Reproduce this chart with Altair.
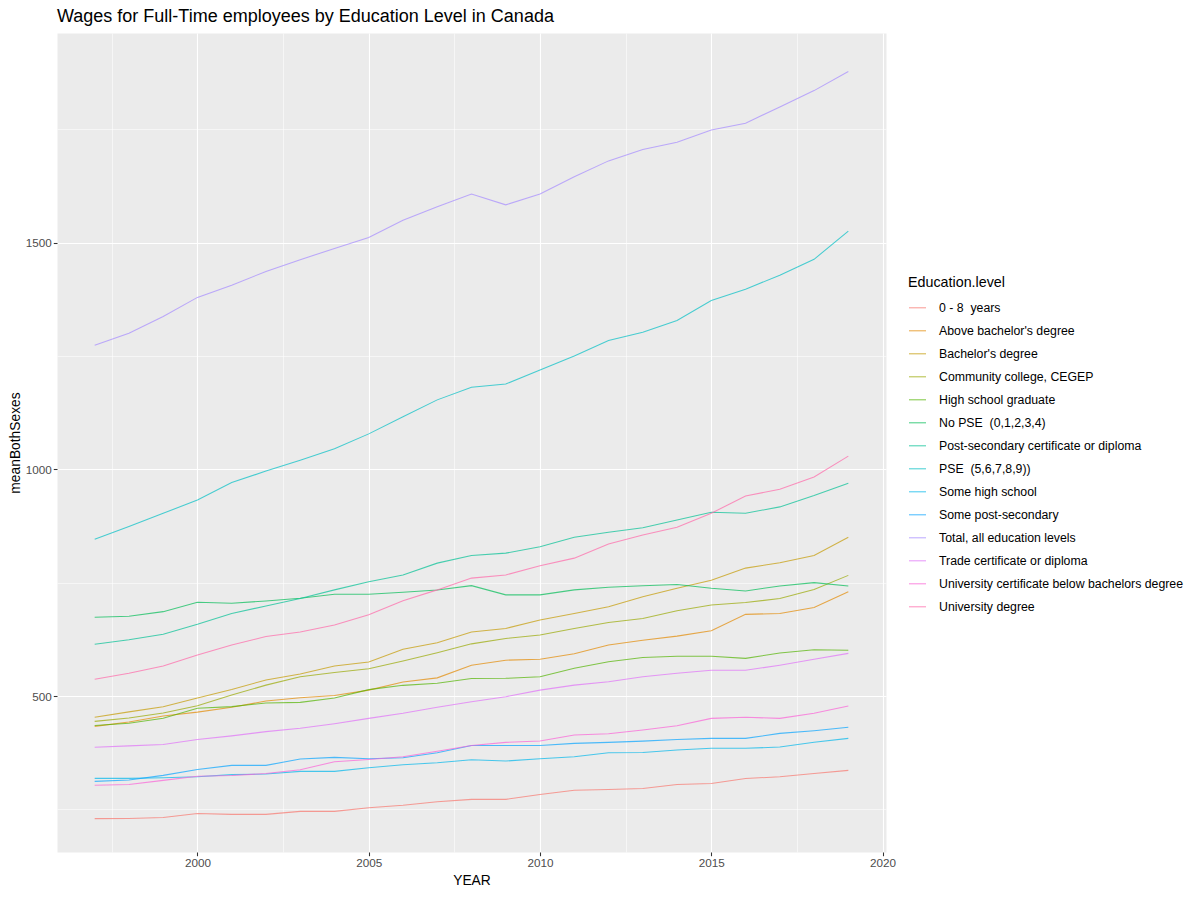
import math
import altair as alt
import pandas as pd

years = list(range(1997, 2020))

levels = [
    "0 - 8 \u00a0years",
    "Above bachelor's degree",
    "Bachelor's degree",
    "Community college, CEGEP",
    "High school graduate",
    "No PSE \u00a0(0,1,2,3,4)",
    "Post-secondary certificate or diploma",
    "PSE \u00a0(5,6,7,8,9))",
    "Some high school",
    "Some post-secondary",
    "Total, all education levels",
    "Trade certificate or diploma",
    "University certificate below bachelors degree",
    "University degree",
]

s_0_8 = [229.6, 230, 232, 241, 239, 239, 245.6, 245.6, 253.7, 259, 267, 272, 272, 283, 292, 294, 296, 305, 307, 318, 322, 329, 336]
above_bach = [433, 442.6, 456, 464.5, 475, 489, 496, 501, 513, 531, 540, 568, 579, 581, 593, 612.5, 623, 632, 644, 680, 682, 695, 730]
bach = [453, 465, 476.5, 495.5, 514.5, 535.3, 548.5, 566, 575, 603, 617.6, 641, 649, 667.6, 682, 697, 719, 737.5, 755, 782, 794, 810, 850]
comm = [444, 451.5, 462.5, 478.7, 502, 524, 542.6, 552, 560, 577, 595.6, 615, 627, 634.6, 649, 662, 671, 688, 700.7, 706, 715, 735, 766]
hs_grad = [435, 440, 451, 472.8, 476.5, 484.5, 486, 495.6, 514, 523.5, 528, 538.5, 539, 542.6, 561, 575.7, 585, 587.5, 587.5, 583, 595, 602, 600.7]
no_pse = [673.5, 675.7, 686, 706.6, 704.4, 709.6, 715.4, 724.3, 724.3, 728.7, 733.8, 743.4, 723, 723, 734, 740, 743, 746, 737.5, 731.6, 742.6, 750, 742.6]
ps_cert = [614, 624, 636, 658, 682, 698.5, 715, 734, 752, 767, 793, 810, 815, 829, 850, 861, 871, 888, 905, 903, 917, 942, 969]
pse = [845.6, 874, 903, 932, 970.6, 996, 1020, 1045, 1078, 1116, 1153, 1181, 1188, 1219, 1250, 1284, 1302, 1328, 1372, 1397, 1428, 1463, 1525]
some_hs = [318.4, 318.4, 319.8, 322, 326.6, 328, 333.8, 333.8, 341.9, 348.5, 353, 359.5, 356.6, 361.8, 366, 375, 375.5, 381, 384.6, 384.6, 387.5, 398, 406.6]
some_ps = [311.8, 314.7, 325, 338, 347, 347, 361, 364.7, 361.8, 364, 375, 391, 391, 391, 395.6, 397.8, 400.5, 404, 406.6, 406.6, 417.6, 423.5, 431]
total = [1273.5, 1300, 1337, 1379, 1406, 1436, 1462, 1487, 1511, 1549, 1579, 1607, 1583, 1607, 1645, 1680, 1705, 1721, 1748, 1763, 1799, 1835, 1877]
trade = [386.8, 390, 393, 404, 412, 421.5, 429, 439, 450.7, 461.8, 475, 487.5, 498.5, 513, 524, 531.6, 542.6, 550, 556.6, 556.6, 568, 581, 594]
univ_cert = [303, 305, 314, 323, 324.6, 329, 337.5, 355, 360, 366, 378, 391, 397.8, 400.7, 414, 416.9, 425, 434.6, 450.7, 453, 450.7, 461.8, 478]
univ_deg = [536.8, 550, 566, 590.4, 612.5, 631, 641, 656.6, 679, 710, 734, 760, 767, 787, 804, 835, 855, 872, 903, 941, 956, 983, 1029]

series = [s_0_8, above_bach, bach, comm, hs_grad, no_pse, ps_cert, pse,
          some_hs, some_ps, total, trade, univ_cert, univ_deg]

x_grid = [1997.5, 2000, 2002.5, 2005, 2007.5, 2010, 2012.5, 2015, 2017.5, 2020]
y_grid = [250, 500, 750, 1000, 1250, 1500, 1750]


def hcl_hex(h, c, l):
    # CIE-LUV polar -> sRGB (as R's hcl())
    xn, yn, zn = 95.047, 100.0, 108.883
    hr = math.radians(h)
    U = c * math.cos(hr)
    V = c * math.sin(hr)
    Y = yn * (((l + 16) / 116) ** 3 if l > 8 else l / 903.3)
    un = 4 * xn / (xn + 15 * yn + 3 * zn)
    vn = 9 * yn / (xn + 15 * yn + 3 * zn)
    u = U / (13 * l) + un
    v = V / (13 * l) + vn
    X = 9.0 * Y * u / (4 * v)
    Z = -X / 3 - 5 * Y + 3 * Y / v
    X, Y, Z = X / 100, Y / 100, Z / 100
    r = 3.240479 * X - 1.537150 * Y - 0.498535 * Z
    g = -0.969256 * X + 1.875992 * Y + 0.041556 * Z
    b = 0.055648 * X - 0.204043 * Y + 1.057311 * Z

    def gam(t):
        t = 12.92 * t if t <= 0.0031308 else 1.055 * t ** (1 / 2.4) - 0.055
        return max(0, min(255, round(t * 255)))

    return "#%02X%02X%02X" % (gam(r), gam(g), gam(b))


n = len(levels)
hues = [15 + i * (360 - 360 / n) / (n - 1) for i in range(n)]
palette = [hcl_hex(hh, 100, 65) for hh in hues]

rows = []
for name, vals in zip(levels, series):
    for yr, v in zip(years, vals):
        rows.append({"YEAR": yr, "meanBothSexes": v, "level": name})
df = pd.DataFrame(rows)

tick_col_x = {"condition": {"test": "datum.value % 5 == 0", "value": "#333333"}, "value": "transparent"}
grid_w_x = {"condition": {"test": "datum.value % 5 == 0", "value": 1.1}, "value": 0.55}
tick_col_y = {"condition": {"test": "datum.value % 500 == 0", "value": "#333333"}, "value": "transparent"}
grid_w_y = {"condition": {"test": "datum.value % 500 == 0", "value": 1.1}, "value": 0.55}

chart = alt.Chart(df).mark_line(strokeWidth=1.07, opacity=0.7).encode(
    x=alt.X(
        "YEAR:Q",
        scale=alt.Scale(domain=[1995.9, 2020.1], nice=False, zero=False),
        axis=alt.Axis(
            values=x_grid,
            format="d",
            labelExpr="datum.value % 5 == 0 ? datum.label : ''",
            title="YEAR",
            tickColor=tick_col_x,
            gridWidth=grid_w_x,
        ),
    ),
    y=alt.Y(
        "meanBothSexes:Q",
        scale=alt.Scale(domain=[156, 1962], nice=False, zero=False),
        axis=alt.Axis(
            values=y_grid,
            format="d",
            labelExpr="datum.value % 500 == 0 ? datum.label : ''",
            title="meanBothSexes",
            tickColor=tick_col_y,
            gridWidth=grid_w_y,
        ),
    ),
    color=alt.Color(
        "level:N",
        scale=alt.Scale(domain=levels, range=palette),
        legend=alt.Legend(
            title="Education.level",
            orient="none",
            legendX=851,
            legendY=243,
            symbolType="stroke",
            symbolSize=289,
            symbolStrokeWidth=1.07,
            symbolOpacity=0.7,
            labelFontSize=12.3,
            labelColor="#000000",
            titleFontSize=14.3,
            titleFontWeight="normal",
            titleColor="#000000",
            titlePadding=8,
            rowPadding=7,
            labelOffset=12,
            labelLimit=400,
        ),
    ),
    detail="level:N",
).properties(
    width=829,
    height=819,
    title=alt.TitleParams(
        "Wages for Full-Time employees by Education Level in Canada",
        anchor="start",
        frame="group",
        fontSize=18,
        fontWeight="normal",
        color="#000000",
        offset=7,
    ),
    autosize=alt.AutoSizeParams(type="none"),
    padding={"left": 49, "top": 25, "right": 300, "bottom": 40},
).configure(
    font="Liberation Sans",
).configure_view(
    fill="#EBEBEB",
    stroke="transparent",
).configure_axis(
    domain=False,
    grid=True,
    gridColor="#FFFFFF",
    labelFontSize=11.7,
    labelColor="#4D4D4D",
    labelPadding=2,
    tickSize=3.7,
    tickWidth=1.07,
    titleFontSize=13.8,
    titleFontWeight="normal",
    titleColor="#000000",
).configure_axisX(
    titlePadding=4,
).configure_axisY(
    titlePadding=3,
)

chart.save("out.html", embed_options={"renderer": "svg", "actions": False})
